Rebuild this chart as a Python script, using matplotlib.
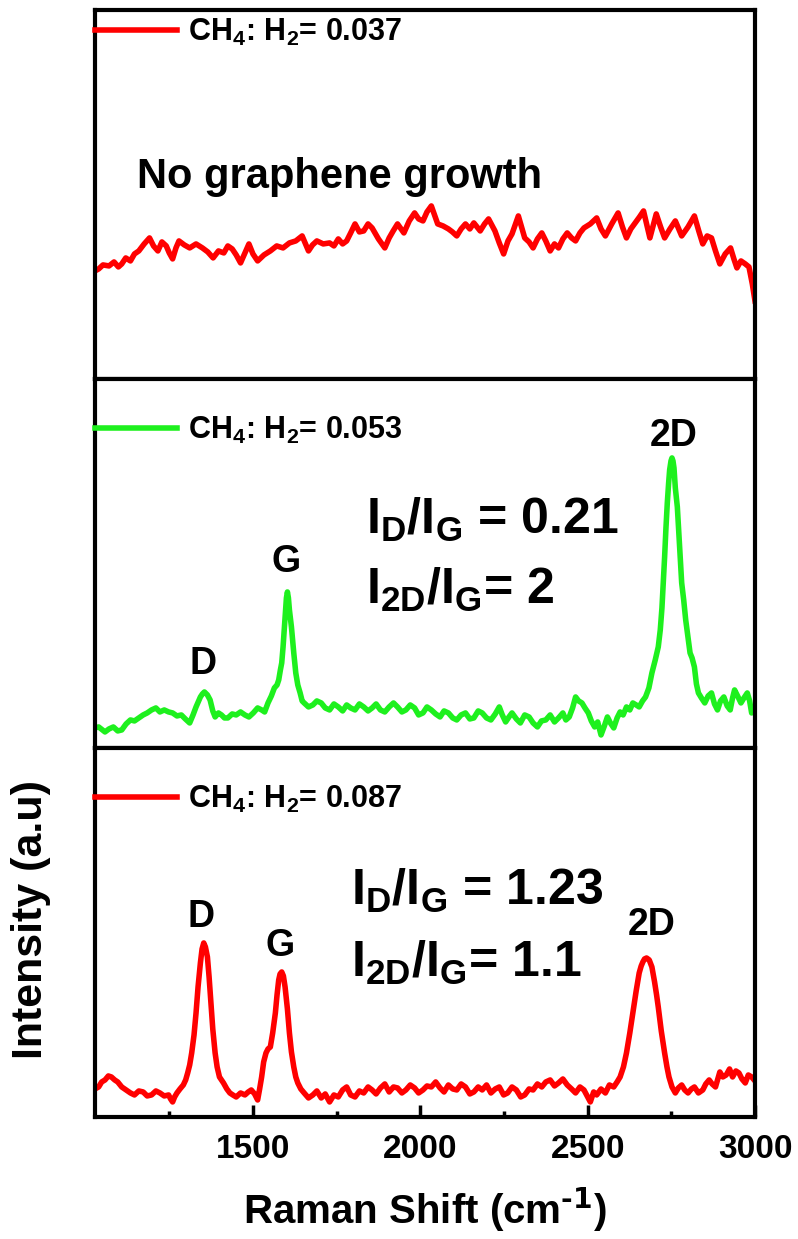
import matplotlib
matplotlib.use("Agg")
import matplotlib.pyplot as plt
from matplotlib.ticker import MultipleLocator

plt.rcParams['font.family'] = ['Liberation Sans', 'DejaVu Sans']
plt.rcParams['font.weight'] = 'bold'
plt.rcParams['mathtext.default'] = 'regular'

# ---- Raman spectra (wavenumber in cm^-1, intensity in a.u.) ----
# CH4:H2 = 0.037  (no graphene)
wn_037 = [1028, 1039, 1052, 1070, 1085, 1098, 1108, 1120, 1134, 1146,
          1159, 1175, 1191, 1203, 1216, 1228, 1241, 1250, 1260, 1270,
          1279, 1295, 1311, 1330, 1349, 1365, 1381, 1397, 1413, 1425,
          1438, 1450, 1463, 1476, 1488, 1500, 1514, 1533, 1552, 1571,
          1590, 1609, 1628, 1647, 1666, 1678, 1691, 1710, 1729, 1742,
          1755, 1768, 1780, 1792, 1805, 1818, 1831, 1844, 1856, 1875,
          1894, 1907, 1919, 1932, 1951, 1967, 1983, 1995, 2008, 2020,
          2033, 2052, 2068, 2084, 2096, 2109, 2122, 2135, 2148, 2160,
          2179, 2192, 2204, 2223, 2236, 2249, 2262, 2274, 2293, 2312,
          2325, 2337, 2350, 2363, 2375, 2388, 2401, 2413, 2426, 2439,
          2452, 2464, 2477, 2489, 2508, 2527, 2540, 2553, 2572, 2591,
          2604, 2616, 2629, 2642, 2655, 2667, 2686, 2705, 2718, 2730,
          2746, 2762, 2781, 2800, 2819, 2832, 2844, 2857, 2870, 2882,
          2895, 2911, 2927, 2937, 2946, 2958, 2971, 2982, 2992, 3000]
int_037 = [108, 110, 114, 113, 117, 112, 115, 121, 118, 125,
           128, 135, 141, 133, 128, 137, 133, 126, 120, 131,
           138, 134, 131, 135, 131, 127, 121, 128, 126, 133,
           130, 124, 116, 126, 135, 125, 118, 124, 128, 133,
           131, 136, 138, 143, 128, 134, 138, 135, 136, 133,
           140, 135, 138, 146, 155, 147, 148, 155, 151, 140,
           131, 141, 148, 155, 146, 158, 166, 160, 158, 167,
           173, 155, 153, 150, 147, 143, 150, 155, 150, 156,
           148, 155, 160, 148, 136, 125, 138, 145, 163, 141,
           137, 131, 140, 146, 138, 128, 135, 131, 140, 146,
           141, 138, 146, 151, 155, 161, 150, 143, 155, 166,
           152, 141, 150, 156, 162, 168, 141, 165, 152, 141,
           150, 158, 143, 152, 163, 148, 135, 143, 141, 128,
           115, 125, 131, 120, 111, 118, 115, 112, 95, 78]

# CH4:H2 = 0.053
wn_053 = [1028, 1039, 1058, 1070, 1083, 1096, 1108, 1121, 1134, 1146,
          1159, 1172, 1184, 1197, 1210, 1222, 1235, 1248, 1260, 1273,
          1286, 1298, 1311, 1321, 1330, 1343, 1349, 1355, 1364, 1372,
          1380, 1387, 1397, 1406, 1415, 1425, 1438, 1450, 1463, 1476,
          1488, 1501, 1514, 1526, 1535, 1545, 1555, 1564, 1572, 1577,
          1582, 1586, 1590, 1596, 1600, 1603, 1606, 1609, 1615, 1622,
          1628, 1634, 1641, 1647, 1653, 1666, 1679, 1691, 1704, 1716,
          1729, 1742, 1755, 1768, 1780, 1792, 1805, 1818, 1831, 1844,
          1856, 1868, 1881, 1894, 1907, 1920, 1932, 1945, 1957, 1970,
          1983, 1995, 2008, 2020, 2033, 2046, 2059, 2071, 2084, 2097,
          2109, 2122, 2135, 2148, 2160, 2173, 2185, 2198, 2211, 2224,
          2236, 2245, 2255, 2265, 2274, 2287, 2299, 2312, 2325, 2337,
          2350, 2362, 2375, 2388, 2401, 2413, 2426, 2435, 2445, 2455,
          2464, 2473, 2483, 2492, 2502, 2511, 2521, 2530, 2540, 2550,
          2559, 2568, 2578, 2588, 2597, 2606, 2616, 2626, 2635, 2645,
          2654, 2664, 2673, 2683, 2692, 2702, 2711, 2717, 2722, 2726,
          2730, 2734, 2738, 2742, 2745, 2749, 2752, 2755, 2758, 2762,
          2768, 2775, 2781, 2787, 2793, 2800, 2806, 2812, 2819, 2825,
          2831, 2840, 2850, 2860, 2870, 2879, 2888, 2897, 2907, 2917,
          2926, 2933, 2939, 2948, 2958, 2967, 2977, 2984, 2990, 3000]
int_053 = [20, 21, 16, 19, 21, 17, 18, 24, 28, 27,
           30, 33, 35, 38, 40, 36, 38, 36, 35, 32,
           33, 29, 25, 33, 41, 51, 54, 56, 53, 48,
           37, 31, 35, 33, 30, 30, 34, 33, 36, 33,
           31, 35, 40, 38, 36, 45, 52, 60, 63, 68,
           78, 85, 101, 130, 150, 156, 150, 138, 121, 95,
           75, 63, 55, 47, 45, 41, 43, 47, 45, 40,
           38, 44, 41, 37, 43, 40, 38, 44, 41, 37,
           40, 44, 38, 36, 41, 45, 41, 36, 38, 43,
           40, 33, 35, 41, 38, 34, 31, 37, 35, 30,
           28, 33, 35, 29, 30, 37, 35, 30, 28, 34,
           41, 33, 26, 31, 35, 29, 25, 33, 31, 25,
           21, 27, 28, 33, 26, 30, 35, 28, 31, 40,
           51, 47, 45, 40, 35, 27, 21, 26, 13, 22,
           31, 25, 20, 30, 36, 33, 41, 38, 45, 43,
           41, 47, 51, 60, 75, 88, 101, 118, 140, 165,
           191, 220, 245, 265, 278, 287, 290, 287, 280, 260,
           241, 200, 165, 148, 128, 110, 95, 90, 81, 64,
           55, 50, 45, 52, 55, 44, 38, 47, 51, 42,
           38, 50, 58, 52, 45, 50, 55, 47, 35, 40]

# CH4:H2 = 0.087
wn_087 = [1028, 1039, 1048, 1058, 1068, 1077, 1087, 1096, 1108, 1121,
          1134, 1146, 1159, 1172, 1184, 1197, 1210, 1222, 1235, 1248,
          1254, 1260, 1266, 1273, 1282, 1292, 1299, 1305, 1311, 1317,
          1324, 1330, 1336, 1343, 1348, 1353, 1358, 1364, 1369, 1374,
          1380, 1387, 1393, 1400, 1406, 1412, 1422, 1431, 1440, 1450,
          1463, 1476, 1486, 1495, 1505, 1514, 1520, 1526, 1532, 1539,
          1545, 1552, 1559, 1567, 1572, 1577, 1581, 1586, 1591, 1596,
          1603, 1609, 1615, 1622, 1628, 1634, 1643, 1653, 1666, 1679,
          1691, 1704, 1716, 1729, 1742, 1755, 1768, 1780, 1792, 1805,
          1818, 1831, 1844, 1856, 1868, 1881, 1894, 1907, 1920, 1932,
          1945, 1957, 1970, 1983, 1995, 2008, 2020, 2033, 2046, 2059,
          2071, 2084, 2097, 2109, 2122, 2135, 2148, 2160, 2173, 2185,
          2198, 2211, 2224, 2236, 2249, 2261, 2274, 2287, 2300, 2312,
          2325, 2337, 2350, 2363, 2375, 2388, 2401, 2413, 2426, 2439,
          2452, 2464, 2477, 2489, 2500, 2508, 2518, 2527, 2540, 2553,
          2565, 2578, 2588, 2597, 2607, 2616, 2626, 2635, 2645, 2654,
          2660, 2665, 2670, 2676, 2684, 2692, 2700, 2706, 2711, 2720,
          2730, 2737, 2743, 2752, 2762, 2771, 2781, 2790, 2800, 2810,
          2819, 2831, 2844, 2853, 2863, 2872, 2882, 2889, 2895, 2904,
          2914, 2924, 2933, 2943, 2952, 2961, 2971, 2980, 2990, 3000]
int_087 = [28, 30, 35, 37, 41, 40, 37, 35, 30, 27,
           24, 22, 26, 25, 21, 22, 26, 24, 21, 22,
           18, 15, 20, 24, 28, 32, 37, 44, 52, 64,
           82, 104, 130, 154, 168, 174, 170, 160, 140, 117,
           88, 64, 50, 40, 37, 34, 28, 24, 22, 20,
           24, 22, 25, 27, 23, 17, 28, 40, 55, 64,
           68, 70, 84, 104, 122, 137, 143, 145, 141, 130,
           108, 84, 65, 50, 40, 34, 28, 24, 19, 22,
           26, 19, 23, 15, 22, 20, 27, 30, 22, 20,
           26, 24, 30, 27, 23, 29, 33, 25, 30, 29,
           24, 27, 32, 29, 24, 27, 31, 30, 35, 29,
           25, 32, 28, 27, 33, 30, 23, 25, 30, 27,
           32, 24, 28, 30, 22, 24, 30, 27, 20, 22,
           28, 27, 33, 30, 35, 37, 31, 34, 38, 32,
           28, 24, 30, 27, 20, 15, 25, 22, 28, 24,
           32, 30, 35, 40, 50, 64, 84, 104, 126, 144,
           151, 155, 158, 159, 157, 150, 135, 122, 110, 86,
           64, 50, 40, 30, 24, 29, 32, 27, 24, 28,
           30, 24, 27, 33, 37, 33, 30, 38, 45, 40,
           42, 48, 40, 46, 44, 38, 34, 42, 40, 36]

ratios = ["0.037", "0.053", "0.087"]
colors = ["#ff0000", "#1ef01e", "#ff0000"]

fig = plt.figure(figsize=(7.98, 12.39), dpi=100)
left, width = 0.119, 0.8271
panel_h = 0.29783
bottoms = [0.0985 + 2 * panel_h, 0.0985 + panel_h, 0.0985]
axes = [fig.add_axes([left, b, width, panel_h]) for b in bottoms]

series = [(wn_037, int_037), (wn_053, int_053), (wn_087, int_087)]
legend_y = [0.940, 0.861, 0.860]

for ax, (wn, inten), c, r, ly in zip(axes, series, colors, ratios, legend_y):
    ax.plot(wn, inten, color=c, lw=4, solid_joinstyle='round',
            label=f"CH$_4$: H$_2$= {r}")
    ax.set_xlim(1028, 3000)
    ax.set_ylim(0, 369)
    for s in ax.spines.values():
        s.set_linewidth(3)
    ax.tick_params(axis='y', left=False, labelleft=False)
    ax.tick_params(axis='x', bottom=False, labelbottom=False)
    ax.legend(loc='center left', bbox_to_anchor=(0.0, ly), frameon=False,
              borderaxespad=0, borderpad=0, handlelength=2.7,
              handletextpad=0.35, prop={'size': 22, 'weight': 'bold'})

ax_top, ax_mid, ax_bot = axes

ax_top.text(1153, 191, "No graphene growth", fontsize=30, fontweight='bold')

lbl = dict(fontsize=27, fontweight='bold', ha='center', va='baseline')
ax_mid.text(1351, 74, "D", **lbl)
ax_mid.text(1600, 176, "G", **lbl)
ax_mid.text(2758, 302, "2D", **lbl)
ratio_kw = dict(fontsize=36, fontweight='bold', ha='left', va='baseline')
ax_mid.text(1838, 214, "I$_D$/I$_G$ = 0.21", **ratio_kw)
ax_mid.text(1838, 144, "I$_{2D}$/I$_G$= 2", **ratio_kw)

ax_bot.text(1345, 190, "D", **lbl)
ax_bot.text(1581, 161, "G", **lbl)
ax_bot.text(2692, 182, "2D", **lbl)
ax_bot.text(1794, 212, "I$_D$/I$_G$ = 1.23", **ratio_kw)
ax_bot.text(1794, 140, "I$_{2D}$/I$_G$= 1.1", **ratio_kw)

ax_bot.xaxis.set_major_locator(MultipleLocator(500))
ax_bot.xaxis.set_minor_locator(MultipleLocator(250))
ax_bot.tick_params(axis='x', which='both', bottom=True, labelbottom=True,
                   direction='in')
ax_bot.tick_params(axis='x', which='major', length=9, width=2.5,
                   labelsize=24, pad=12)
ax_bot.tick_params(axis='x', which='minor', length=4.5, width=2.5)
for t in ax_bot.get_xticklabels():
    t.set_fontweight('bold')
ax_bot.set_xlabel(r"Raman Shift (cm$^{\text{-1}}$)", fontsize=29,
                  fontweight='bold', labelpad=15)

fig.text(0.039, 0.2575, "Intensity (a.u)", rotation=90, fontsize=31,
         fontweight='bold', ha='center', va='center')

fig.savefig("out.png", dpi=100)
